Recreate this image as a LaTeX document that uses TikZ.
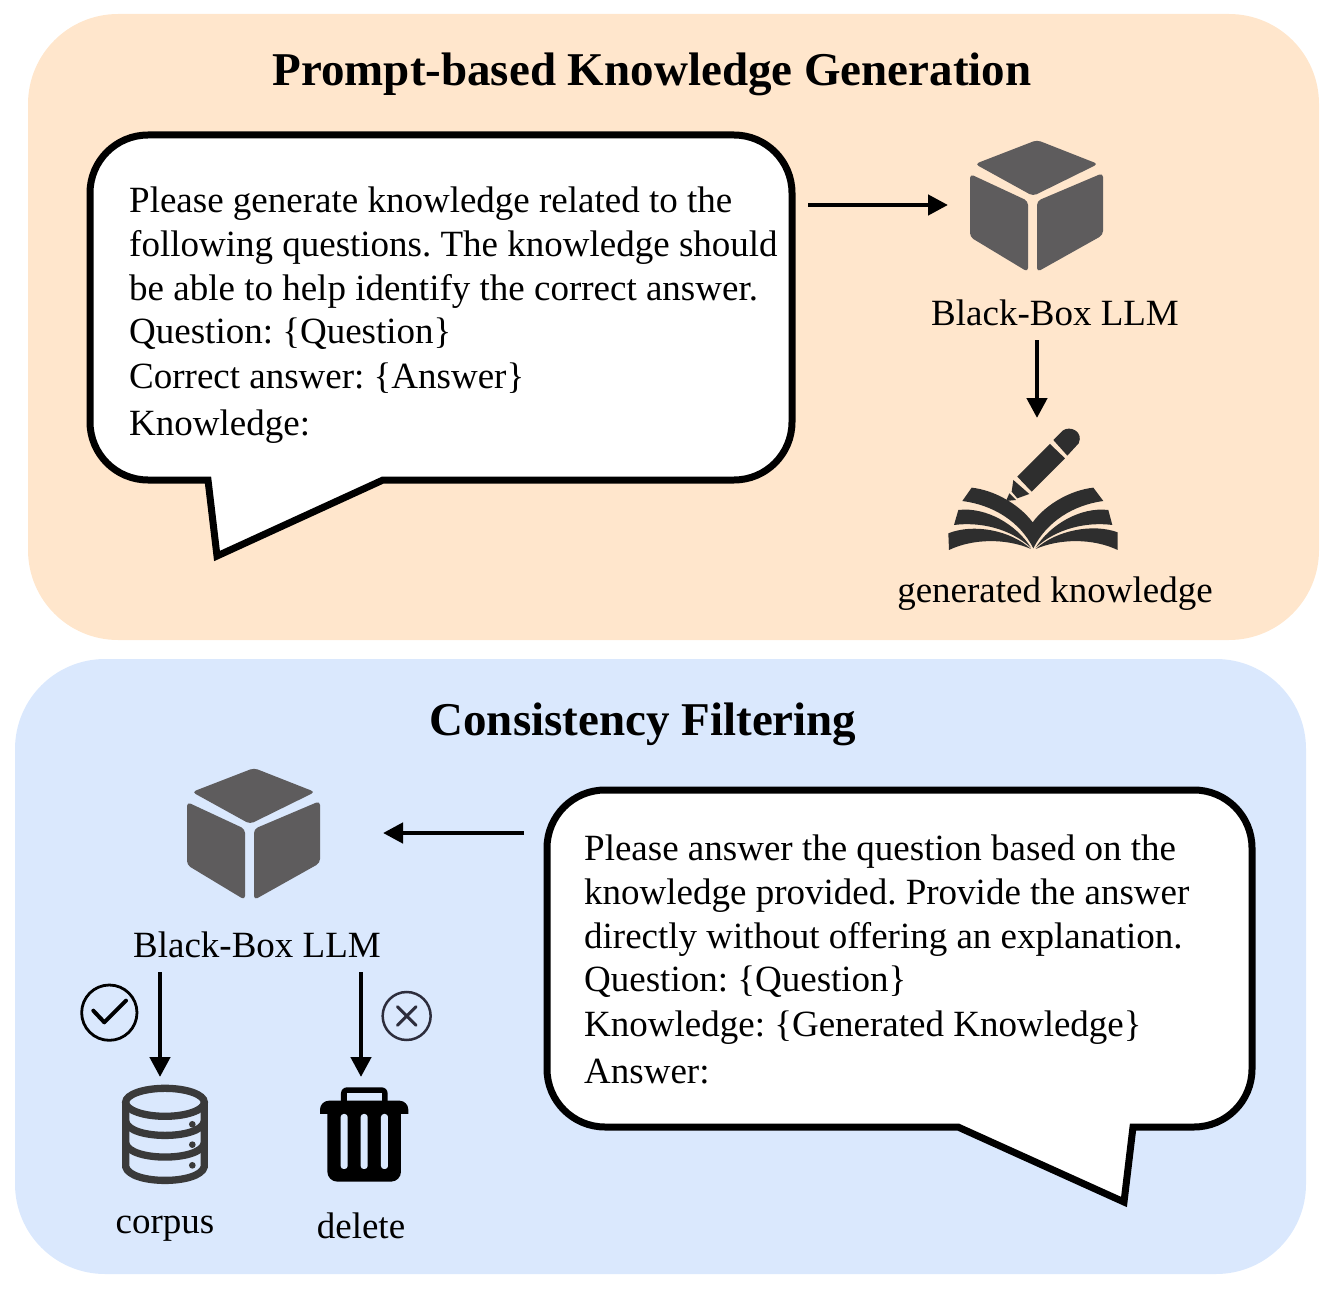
\documentclass[tikz,border=0pt]{standalone}
\usepackage{fontspec}
\setmainfont{Liberation Serif}
\usetikzlibrary{arrows.meta}
\definecolor{panelOrange}{HTML}{FFE6CC}
\definecolor{panelBlue}{HTML}{DAE8FD}
\definecolor{boxGray}{HTML}{5E5C5D}
\definecolor{bookGray}{HTML}{2E2E2E}
\definecolor{dbGray}{HTML}{3A3A3A}
\definecolor{crossGray}{HTML}{2D2D3C}
\frenchspacing
\tikzset{
	panel/.style={rounded corners=90pt},
	bubble/.style={draw=black, fill=white, line width=7pt, rounded corners=58pt, miter limit=10},
	flow/.style={line width=4.5pt, -{Triangle[length=20pt,width=20pt]}},
	title/.style={font=\fontsize{47}{50}\selectfont\bfseries},
	prompt/.style={anchor=base west, inner sep=0pt, font=\fontsize{37}{44}\selectfont},
	caption/.style={inner sep=0pt, font=\fontsize{37}{44}\selectfont},
}
\newcommand{\blackBox}[2]{
	\begin{scope}[shift={(#1,#2)}, fill=boxGray, rounded corners=4pt]
		\fill (0,-1) -- (61,23) -- (-4,55) -- (-62,23) -- cycle;
		\fill (-67,33) -- (-9,60) -- (-9,131) -- (-67,96) -- cycle;
		\fill (66,32) -- (0,60) -- (0,131) -- (66,94) -- cycle;
	\end{scope}
}

\begin{document}
\begin{tikzpicture}[x=1pt,y=-1pt]
	\useasboundingbox (0,0) rectangle (1328,1297);

	% Panels
	\fill [panel, panelOrange] (28,14) rectangle (1319,640);
	\fill [panel, panelBlue] (15,659) rectangle (1306,1274);

	\node [title] (genTitle) at (652,74) {Prompt-based Knowledge Generation};
	\node [title] (filterTitle) at (643,724) {Consistency Filtering};

	% Upper speech bubble
	\draw [bubble] (90,135) -- (792,135) -- (792,480) [sharp corners] -- (383,480) -- (217,556) -- (208,480) [rounded corners=58pt] -- (90,480) -- cycle;
	\node [prompt] (genA) at (129,213) {Please generate knowledge related to the};
	\node [prompt] (genB) at (129,257) {following questions. The knowledge should};
	\node [prompt] (genC) at (129,301) {be able to help identify the correct answer.};
	\node [prompt] (genD) at (129,344) {Question: \{Question\}};
	\node [prompt] (genE) at (129,388) {Correct answer: \{Answer\}};
	\node [prompt] (genF) at (129,435) {Knowledge:};

	% Lower speech bubble
	\draw [bubble] (547,790) -- (1252,790) -- (1252,1127) [sharp corners] -- (1133,1127) -- (1124,1202) -- (958,1127) [rounded corners=58pt] -- (547,1127) -- cycle;
	\node [prompt] (askA) at (584,860) {Please answer the question based on the};
	\node [prompt] (askB) at (584,904) {knowledge provided. Provide the answer};
	\node [prompt] (askC) at (584,948) {directly without offering an explanation.};
	\node [prompt] (askD) at (584,991) {Question: \{Question\}};
	\node [prompt] (askE) at (584,1036) {Knowledge: \{Generated Knowledge\}};
	\node [prompt] (askF) at (584,1083) {Answer:};

	% Icons
	\blackBox{1037}{141}
	\blackBox{254}{769}

	% Book and pen
	\begin{scope}[shift={(930,415)}, x=.3333pt, y=-.3333pt, fill=bookGray]
		\fill (125,218) .. controls (190,225) and (265,265) .. (308,322) .. controls (350,265) and (425,225) .. (490,218) -- (520,258) .. controls (430,270) and (350,320) .. (310,400) .. controls (270,320) and (190,270) .. (97,258) -- cycle;
		\fill (85,285) -- (72,330) .. controls (150,320) and (240,340) .. (303,398) .. controls (260,330) and (170,275) .. (85,285) -- cycle;
		\fill (535,285) -- (547,330) .. controls (470,320) and (380,340) .. (317,398) .. controls (360,330) and (450,275) .. (535,285) -- cycle;
		\fill (55,355) -- (57,405) .. controls (130,370) and (230,370) .. (303,402) .. controls (240,345) and (130,325) .. (55,355) -- cycle;
		\fill (563,352) -- (563,405) .. controls (490,370) and (390,370) .. (317,402) .. controls (380,345) and (490,325) .. (563,352) -- cycle;
		\fill (370,75) -- (398,47) .. controls (420,30) and (462,50) .. (446,85) -- (412,122) -- cycle;
		\fill (360,87) -- (405,130) -- (305,230) -- (262,185) -- cycle;
		\fill (250,195) -- (298,237) -- (262,250) -- (245,230) -- cycle;
		\fill (238,235) -- (258,255) -- (228,258) -- cycle;
	\end{scope}

	% Database
	\begin{scope}[shift={(70,970)}, x=.3333pt, y=-.3333pt, draw=dbGray, line width=7.3pt]
		\draw (285,397) ellipse [x radius=118, y radius=42];
		\draw (167,397) -- (167,590) .. controls (180,645) and (390,645) .. (403,590) -- (403,397);
		\draw (167,455) .. controls (180,510) and (390,510) .. (403,455);
		\draw (167,520) .. controls (180,575) and (390,575) .. (403,520);
		\foreach \dotY in {463,524,586}
			\fill [dbGray] (367,\dotY) circle [radius=10];
	\end{scope}
	\begin{scope}[shift={(70,970)}, x=.3333pt, y=-.3333pt]
		\draw [line width=2.8pt] (118,128) circle [radius=83];
		\draw [line width=4pt, line cap=round, line join=round] (70,122) -- (103,157) -- (168,92);
	\end{scope}

	% Trash can
	\begin{scope}[shift={(300,970)}, x=.3333pt, y=-.3333pt]
		\fill (123,400) [rounded corners=6pt] -- (123,352) -- (263,352) [sharp corners] -- (263,400) -- cycle;
		\fill [panelBlue] (141,370) rectangle (245,392);
		\fill (60,432) [rounded corners=9pt] -- (60,392) -- (325,392) [sharp corners] -- (325,432) -- cycle;
		\fill (82,425) -- (303,425) [rounded corners=10pt] -- (303,635) -- (82,635) [sharp corners] -- cycle;
		\foreach \slotX in {122,182,243}
			\fill [panelBlue, rounded corners=3pt] (\slotX,432) rectangle ++(21,165);
		\draw [crossGray, line width=2.5pt] (320,138) circle [radius=72];
		\draw [crossGray, line width=3pt, line cap=round] (292,110) -- (348,166) (348,110) -- (292,166);
	\end{scope}

	% Captions
	\node [caption] (llmTop) at (1055,313) {Black-Box LLM};
	\node [caption] (genKnow) at (1055,594) {generated knowledge};
	\node [caption] (llmLow) at (257,945) {Black-Box LLM};
	\node [caption] (corpus) at (165,1229) {corpus};
	\node [caption] (delete) at (361,1226) {delete};

	% Arrows
	\coordinate (bubbleOut) at (808,205);
	\coordinate (boxIn) at (948,205);
	\coordinate (boxOut) at (1037,340);
	\coordinate (bookIn) at (1037,418);
	\coordinate (askOut) at (524,833);
	\coordinate (lowBoxIn) at (383,833);
	\coordinate (keepTop) at (160,972);
	\coordinate (keepEnd) at (160,1077);
	\coordinate (dropTop) at (361,972);
	\coordinate (dropEnd) at (361,1077);
	\draw [flow] (bubbleOut) -- (boxIn);
	\draw [flow] (boxOut) -- (bookIn);
	\draw [flow] (askOut) -- (lowBoxIn);
	\draw [flow] (keepTop) -- (keepEnd);
	\draw [flow] (dropTop) -- (dropEnd);
\end{tikzpicture}
\end{document}
